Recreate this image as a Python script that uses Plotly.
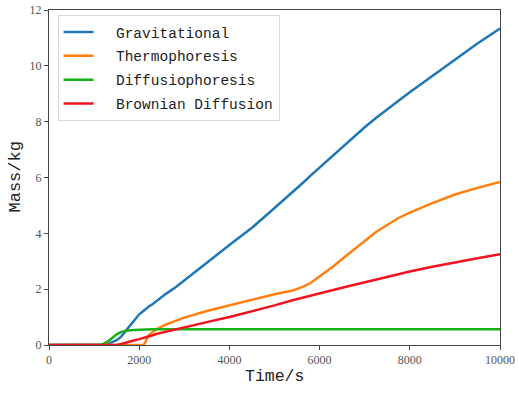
import plotly.graph_objects as go

time_s = [0, 1000, 1100, 1200, 1300, 1400, 1500, 1600, 1700, 1800, 1900, 2000, 2100, 2150, 2200,
          2300, 2400, 2600, 2800, 3000, 3500, 4000, 4500, 4800, 5000, 5400, 5650, 5800,
          6000, 6300, 6500, 7000, 7250, 7500, 7750, 8000, 8500, 9000, 9500, 10000]

gravitational = [0, 0, 0, 0, 0.02, 0.1, 0.17, 0.3, 0.5, 0.72, 0.93, 1.1, 1.23, 1.3, 1.36,
                 1.47, 1.6, 1.84, 2.06, 2.32, 2.95, 3.58, 4.2, 4.62, 4.9, 5.47, 5.84, 6.07,
                 6.36, 6.8, 7.1, 7.8, 8.13, 8.45, 8.75, 9.05, 9.65, 10.22, 10.8, 11.34]

thermophoresis = [0, 0, 0, 0, 0, 0, 0, 0, 0, 0, 0, 0, 0, 0.15, 0.33,
                  0.47, 0.58, 0.74, 0.87, 0.98, 1.22, 1.42, 1.62, 1.75, 1.82, 1.95, 2.1, 2.22,
                  2.45, 2.81, 3.08, 3.72, 4.05, 4.3, 4.55, 4.74, 5.08, 5.39, 5.63, 5.84]

diffusiophoresis = [0, 0, 0, 0.04, 0.12, 0.25, 0.38, 0.47, 0.51, 0.53, 0.54, 0.55, 0.55, 0.555, 0.56,
                    0.56, 0.56, 0.56, 0.56, 0.56, 0.56, 0.56, 0.56, 0.56, 0.56, 0.56, 0.56, 0.56,
                    0.56, 0.56, 0.56, 0.56, 0.56, 0.56, 0.56, 0.56, 0.56, 0.56, 0.56, 0.56]

brownian = [0, 0, 0, 0, 0, 0, 0, 0.04, 0.09, 0.13, 0.17, 0.21, 0.25, 0.27, 0.3,
            0.35, 0.4, 0.48, 0.55, 0.63, 0.82, 1.0, 1.2, 1.33, 1.42, 1.6, 1.71, 1.77,
            1.85, 1.97, 2.05, 2.25, 2.35, 2.45, 2.54, 2.63, 2.8, 2.96, 3.11, 3.25]

series = [
    ("Gravitational", gravitational, "#1f77b4"),
    ("Thermophoresis", thermophoresis, "#ff7f0e"),
    ("Diffusiophoresis", diffusiophoresis, "#17b217"),
    ("Brownian Diffusion", brownian, "#f0141e"),
]

x_ticks = [0, 2000, 4000, 6000, 8000, 10000]
x_tick_labels = ["0", "2000", "4000", "6000", "8000", "10000"]
y_ticks = [0, 2, 4, 6, 8, 10, 12]
x_title = "Time/s"
y_title = "Mass/kg"

fig = go.Figure()
for i, (name, vals, color) in enumerate(series):
    fig.add_trace(go.Scatter(
        x=time_s, y=vals, mode="lines", name="\u00a0\u00a0" + name,
        line=dict(color=color, width=2.5),
        legendgroup=f"g{i}",
    ))

axis_common = dict(
    showline=True, linecolor="#444", linewidth=1, mirror=True,
    ticks="outside", ticklen=4, tickcolor="#444", showgrid=False, zeroline=False,
    tickfont=dict(family="Liberation Serif", size=12, color="#555"),
    automargin=False,
)

fig.update_layout(
    width=519, height=393,
    margin=dict(l=49, r=19, t=10, b=48),
    paper_bgcolor="white", plot_bgcolor="white",
    xaxis=dict(range=[0, 10000], tickvals=x_ticks, ticktext=x_tick_labels, **axis_common),
    yaxis=dict(range=[0, 12], tickvals=y_ticks, **axis_common),
    legend=dict(x=0.019, y=0.985, xanchor="left", yanchor="top",
                bgcolor="white", bordercolor="#d8d8d8", borderwidth=1,
                font=dict(family="Liberation Mono", size=14.5, color="#222"),
                tracegroupgap=2),
    showlegend=True,
    annotations=[
        dict(text=x_title, xref="paper", yref="paper", x=0.5, y=0, xanchor="center",
             yanchor="middle", yshift=-31, showarrow=False,
             font=dict(family="Liberation Mono", size=16.5, color="#222")),
        dict(text=y_title, xref="paper", yref="paper", x=0, y=0.5, xanchor="center",
             yanchor="middle", xshift=-34, textangle=-90, showarrow=False,
             font=dict(family="Liberation Mono", size=17, color="#222")),
    ],
)

fig.write_html("out.html", post_script="document.body.style.margin='0px';",
               config={"displayModeBar": False})
